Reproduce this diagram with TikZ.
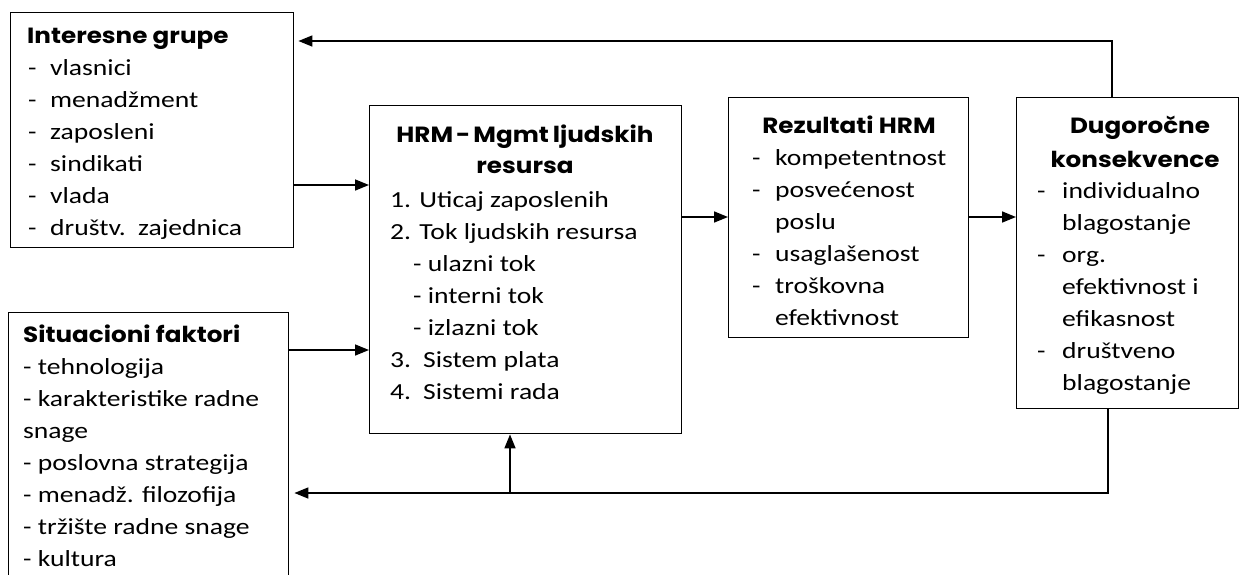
\documentclass[tikz,border=0pt]{standalone}
\usepackage{fontspec}
\setmainfont{Carlito}[FakeStretch=1.2]
\newfontfamily\hfont{Poppins}[FakeStretch=1.12]
\usetikzlibrary{arrows.meta}
\begin{document}
\begin{tikzpicture}[x=1pt,y=-1pt,
  box/.style={draw,line width=1.4pt,inner sep=0pt,anchor=north west},
  hd/.style={inner sep=0pt,font={\hfont\bfseries\fontsize{22}{26}\selectfont}},
  bd/.style={inner sep=0pt,anchor=base west,font={\fontsize{23}{32}\selectfont}},
  conn/.style={line width=1.6pt},
  arr/.style={conn,-{Triangle[length=14pt,width=11pt]}}]
\useasboundingbox (0,0) rectangle (1240,574);
\clip (0,0) rectangle (1240,574);
% boxes
\node[box,minimum width=283pt,minimum height=235pt] (b1) at (10,12) {};
\node[box,minimum width=280pt,minimum height=300pt] (b2) at (8,312) {};
\node[box,minimum width=312pt,minimum height=328pt] (b3) at (369,105) {};
\node[box,minimum width=240pt,minimum height=240pt] (b4) at (728,97) {};
\node[box,minimum width=222pt,minimum height=311pt] (b5) at (1016,97) {};
% box 1 text
\node[hd,anchor=base west] (h1) at (27,43) {Interesne grupe};
\node[bd] (t1) at (28,75) {\begin{tabular}[t]{@{}p{22pt}@{}l@{}}
-&vlasnici\\ -&menadžment\\ -&zaposleni\\ -&sindikati\\ -&vlada\\ -&društv.\ \ zajednica
\end{tabular}};
% box 2 text
\node[hd,anchor=base west] (h2) at (23,342) {Situacioni faktori};
\node[bd] (t2) at (23,374) {\begin{tabular}[t]{@{}l@{}}
- tehnologija\\ - karakteristike radne\\ snage\\ - poslovna strategija\\ - menadž. filozofija\\ - tržište radne snage\\ - kultura
\end{tabular}};
% box 3 text
\node[hd,anchor=base] (h3a) at (525,142) {HRM\hspace{3pt}-\hspace{3pt}Mgmt\hspace{4pt}ljudskih};
\node[hd,anchor=base] (h3b) at (525,173) {resursa};
\node[bd] (t3) at (390,207) {\begin{tabular}[t]{@{}l@{}}
1. Uticaj zaposlenih\\ 2. Tok ljudskih resursa\\ \hspace*{23pt}- ulazni tok\\ \hspace*{23pt}- interni tok\\ \hspace*{23pt}- izlazni tok\\ 3.\hspace{12pt}Sistem plata\\ 4.\hspace{12pt}Sistemi rada
\end{tabular}};
% box 4 text
\node[hd,anchor=base] (h4) at (849,133) {Rezultati HRM};
\node[bd] (t4) at (752,165) {\begin{tabular}[t]{@{}p{23pt}@{}l@{}}
-&kompetentnost\\ -&posvećenost\\ &poslu\\ -&usaglašenost\\ -&troškovna\\ &efektivnost
\end{tabular}};
% box 5 text
\node[hd,anchor=base] (h5a) at (1140,133) {Dugoročne};
\node[hd,anchor=base] (h5b) at (1135,167) {konsekvence};
\node[bd] (t5) at (1037,198) {\begin{tabular}[t]{@{}p{25pt}@{}l@{}}
-&individualno\\ &blagostanje\\ -&org.\\ &efektivnost i\\ &efikasnost\\ -&društveno\\ &blagostanje
\end{tabular}};
% helper coordinates
\coordinate (ya) at (0,185);
\coordinate (yb) at (0,350);
\coordinate (yc) at (0,217);
\coordinate (ytop) at (0,41);
\coordinate (ybot) at (0,493);
\coordinate (xtop) at (1112,0);
\coordinate (xbot) at (1108,0);
\coordinate (xup) at (510,0);
% connectors
\draw[arr] (b1.east |- ya) -- (b3.west |- ya);
\draw[arr] (b2.east |- yb) -- (b3.west |- yb);
\draw[arr] (b3.east |- yc) -- (b4.west |- yc);
\draw[arr] (b4.east |- yc) -- (b5.west |- yc);
\draw[arr] (b5.north -| xtop) -- (xtop |- ytop) -- ([xshift=4pt]b1.east |- ytop);
\draw[arr] (b5.south -| xbot) -- (xbot |- ybot) -- ([xshift=5pt]b2.east |- ybot);
\draw[arr] (xup |- ybot) -- (b3.south -| xup);
\end{tikzpicture}
\end{document}
